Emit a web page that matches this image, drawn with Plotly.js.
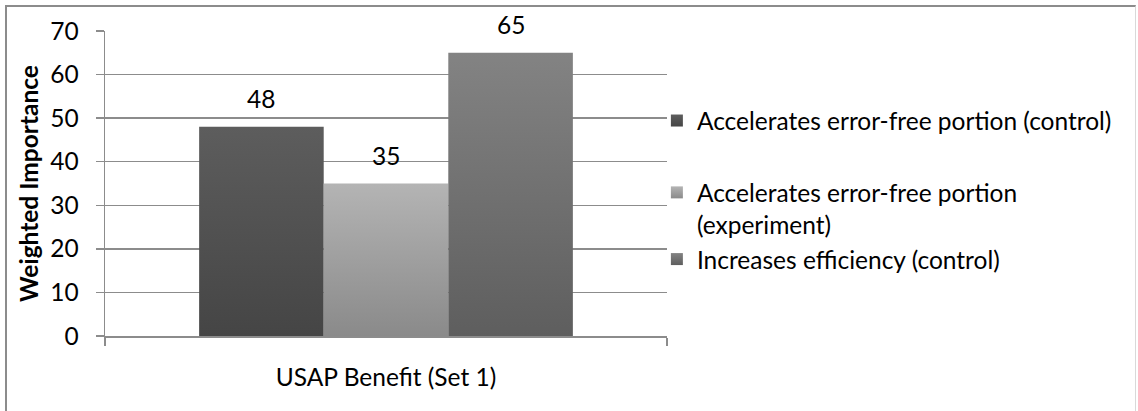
<!DOCTYPE html>
<html>
<head>
<meta charset="utf-8">
<script src="https://cdn.plot.ly/plotly-3.0.1.min.js"></script>
<style>
  html, body { margin: 0; padding: 0; background: #fff; }
  #frame { position: absolute; left: 5px; top: 5px; width: 1131px; height: 420px;
           border-left: 2px solid #8c8c8c; border-top: 2px solid #8c8c8c; border-right: 1px solid #d9d9d9; box-sizing: border-box; }
  #chart { position: absolute; left: 0; top: 0; width: 1138px; height: 411px; }
</style>
</head>
<body>
<div id="frame"></div>
<div id="chart"></div>
<script>
// ---- data ----
const categories = ["USAP Benefit (Set 1)"];
const seriesNames = [
  "Accelerates error-free portion (control)",
  "Accelerates error-free portion<br>(experiment)",
  "Increases efficiency (control)"
];
const legendGroups = ["g1", "g2", "g2"];
const controlErrorFree = [48];
const experimentErrorFree = [35];
const controlEfficiency = [65];
const yTicks = [0, 10, 20, 30, 40, 50, 60, 70];

// ---- styles ----
const FONT = "Lato, 'Liberation Sans', sans-serif";
const FS = 24.5;
const midColors = ["#505050", "#9e9e9e", "#707070"];
const gradStops = [["#5d5d5d", "#454545"], ["#b4b4b4", "#8a8a8a"], ["#838383", "#5e5e5e"]];
const bargap = 0.335;

const seriesValues = [controlErrorFree, experimentErrorFree, controlEfficiency];
const traces = seriesValues.map((vals, i) => ({
  type: "bar",
  x: categories,
  y: vals,
  name: seriesNames[i],
  legendgroup: legendGroups[i],
  marker: { color: midColors[i], line: { width: 0 } },
  hoverinfo: "none"
}));

// data labels placed above each bar via the bar group geometry
const nS = seriesValues.length;
const barW = (1 - bargap) / nS;
const annotations = [];
seriesValues.forEach((vals, i) => {
  vals.forEach((v, j) => {
    annotations.push({
      x: j - (1 - bargap) / 2 + barW * (i + 0.5),
      y: v, xref: "x", yref: "y",
      text: String(v), showarrow: false,
      yanchor: "bottom", yshift: 12,
      font: { family: FONT, size: FS, color: "#000" }
    });
  });
});

const layout = {
  width: 1138, height: 411,
  margin: { l: 105, r: 471, t: 31, b: 75 },
  paper_bgcolor: "rgba(0,0,0,0)",
  plot_bgcolor: "rgba(0,0,0,0)",
  font: { family: FONT, size: FS, color: "#000" },
  barmode: "group",
  bargap: bargap,
  bargroupgap: 0,
  showlegend: true,
  legend: {
    x: 0.982, xanchor: "left", y: 0.78, yanchor: "top",
    font: { family: FONT, size: FS, color: "#000" },
    bgcolor: "rgba(0,0,0,0)", borderwidth: 0,
    traceorder: "grouped", tracegroupgap: 37,
    valign: "top"
  },
  xaxis: {
    type: "category",
    range: [-0.5, 0.5],
    showgrid: false,
    showline: true, linecolor: "#8c8c8c", linewidth: 1.5,
    ticks: "outside", tickson: "boundaries", ticklen: 8, tickcolor: "#8c8c8c", tickwidth: 1.5,
    ticklabelstandoff: 19,
    tickfont: { family: FONT, size: FS, color: "#000" },
    fixedrange: true
  },
  yaxis: {
    range: [0, 70],
    tickvals: yTicks,
    ticktext: yTicks.map(String),
    showgrid: true, gridcolor: "#8c8c8c", gridwidth: 1.5,
    zeroline: false,
    showline: true, linecolor: "#8c8c8c", linewidth: 1.5,
    ticks: "outside", ticklen: 8, tickcolor: "#8c8c8c", tickwidth: 1.5,
    ticklabelstandoff: 12,
    tickfont: { family: FONT, size: FS, color: "#000" },
    title: { text: "<b>Weighted Importance</b>", standoff: 4, font: { family: FONT, size: FS, color: "#000" } },
    automargin: false,
    fixedrange: true
  },
  annotations: annotations
};

Plotly.newPlot("chart", traces, layout, { staticPlot: true, displayModeBar: false }).then(gd => {
  const svg = gd.querySelector("svg.main-svg");
  const defs = svg.querySelector("defs");
  const NS = "http://www.w3.org/2000/svg";
  gradStops.forEach((st, i) => {
    const g = document.createElementNS(NS, "linearGradient");
    g.setAttribute("id", "barGrad" + i);
    g.setAttribute("x1", "0"); g.setAttribute("y1", "0");
    g.setAttribute("x2", "0"); g.setAttribute("y2", "1");
    [[0, st[0]], [1, st[1]]].forEach(([o, c]) => {
      const s = document.createElementNS(NS, "stop");
      s.setAttribute("offset", o); s.setAttribute("stop-color", c);
      g.appendChild(s);
    });
    defs.appendChild(g);
  });
  gd.querySelectorAll(".barlayer .trace").forEach((t, i) => {
    t.querySelectorAll("path").forEach(p => { p.style.fill = "url(#barGrad" + i + ")"; });
  });
  gd.querySelectorAll(".legend .traces").forEach(t => {
    const d = t.__data__;
    const idx = d && d[0] && d[0].trace ? d[0].trace.index : 0;
    t.querySelectorAll(".legendpoints path").forEach(p => { p.style.fill = "url(#barGrad" + idx + ")"; });
  });
});
</script>
</body>
</html>
